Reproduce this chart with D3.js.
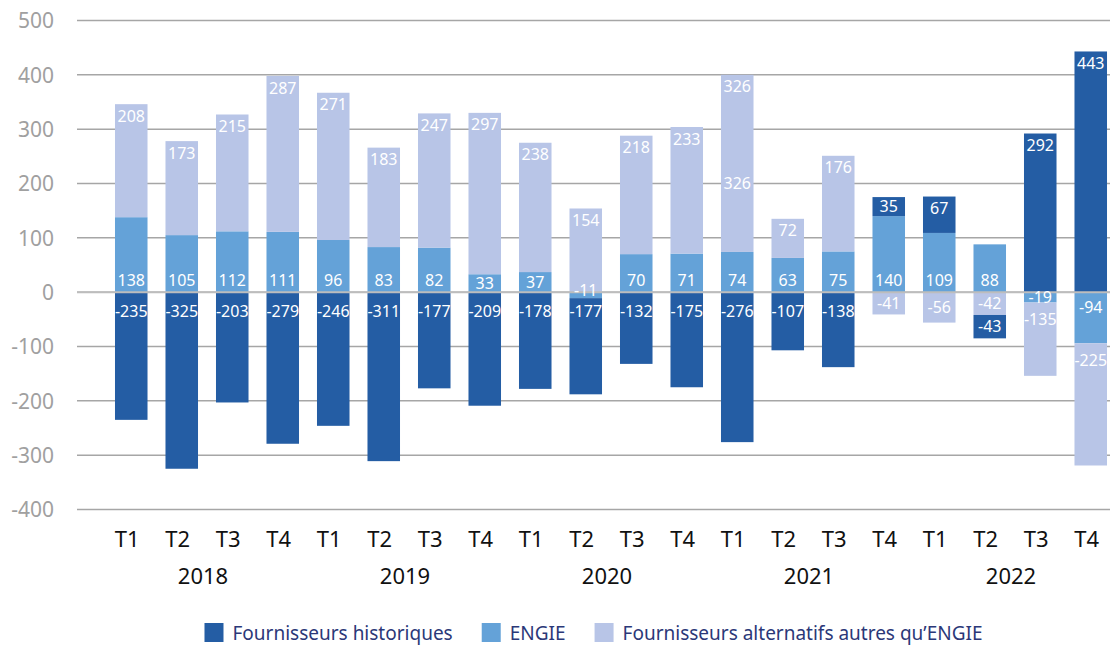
<!DOCTYPE html>
<html>
<head>
<meta charset="utf-8">
<script src="https://cdn.jsdelivr.net/npm/d3@7"></script>
<style>
  body { margin: 0; background: #fff; }
  text { font-family: "Noto Sans", sans-serif; }
</style>
</head>
<body>
<div id="chart"></div>
<script>
// quarters / years
var quarters = ["T1","T2","T3","T4","T1","T2","T3","T4","T1","T2","T3","T4",
                "T1","T2","T3","T4","T1","T2","T3","T4"];
var years = ["2018","2019","2020","2021","2022"];

// series values
var historiques = [-235,-325,-203,-279,-246,-311,-177,-209,-178,-177,-132,-175,-276,-107,-138,35,67,-43,292,443];
var engie       = [138,105,112,111,96,83,82,33,37,-11,70,71,74,63,75,140,109,88,-19,-94];
var alternatifs = [208,173,215,287,271,183,247,297,238,154,218,233,326,72,176,-41,-56,-42,-135,-225];

var yTicks = [-400,-300,-200,-100,0,100,200,300,400,500];

var cfg = {
    w: 1110,
    h: 647,
    left: 77,
    right: 1110,
    top: 20.5,
    bottom: 509.5
};

var colors = {
    hist: "#245da4",
    engie: "#64a2d8",
    alt: "#b8c5e7"
};

var legendItems = [
    {key: "hist", name: "Fournisseurs historiques"},
    {key: "engie", name: "ENGIE"},
    {key: "alt", name: "Fournisseurs alternatifs autres qu\u2019ENGIE"}
];

var rows = quarters.map(function(q, i){
    return {i: i, q: q, hist: historiques[i], engie: engie[i], alt: alternatifs[i]};
});

var svg = d3.select("#chart")
    .append("svg")
    .attr("width", cfg.w)
    .attr("height", cfg.h);

var x = d3.scaleBand()
    .domain(d3.range(rows.length))
    .range([106, 1116])
    .paddingInner(0.356)
    .paddingOuter(0.178);

var y = d3.scaleLinear()
    .domain([-400, 500])
    .range([cfg.bottom, cfg.top]);

// gridlines
svg.append("g")
    .selectAll("line")
    .data(yTicks)
    .enter()
    .append("line")
    .attr("x1", cfg.left)
    .attr("x2", cfg.right)
    .attr("y1", function(d){ return y(d); })
    .attr("y2", function(d){ return y(d); })
    .style("stroke", "#a6a6a6")
    .style("stroke-width", "1.5px");

// y axis labels
var yAxis = d3.axisLeft(y)
    .tickValues(yTicks)
    .tickSize(0)
    .tickPadding(0)
    .tickFormat(function(d){ return String(d); });

var gy = svg.append("g")
    .attr("transform", "translate(54,0)")
    .call(yAxis);
gy.select(".domain").remove();
gy.selectAll("text")
    .style("font-family", "'Noto Sans', sans-serif")
    .style("font-size", "21px")
    .style("fill", "#a0a0a0")
    .attr("dy", "0.35em");

// stacked bars
var keys = ["engie", "alt", "hist"];
var series = d3.stack()
    .keys(keys)
    .offset(d3.stackOffsetDiverging)(rows);

var layers = svg.append("g")
    .selectAll("g")
    .data(series)
    .enter()
    .append("g")
    .style("fill", function(d){ return colors[d.key]; });

layers.selectAll("rect")
    .data(function(d){ return d; })
    .enter()
    .append("rect")
    .attr("x", function(d){ return x(d.data.i); })
    .attr("width", x.bandwidth())
    .attr("y", function(d){ return y(Math.max(d[0], d[1])); })
    .attr("height", function(d){ return Math.abs(y(d[0]) - y(d[1])); });

// zero line over bars
svg.append("line")
    .attr("x1", cfg.left)
    .attr("x2", cfg.right)
    .attr("y1", y(0))
    .attr("y2", y(0))
    .style("stroke", "#bdbdbd")
    .style("stroke-width", "2px");

// data labels
function labelY(key, d){
    var v = d.data[key];
    var top = y(Math.max(d[0], d[1]));
    var bot = y(Math.min(d[0], d[1]));
    if (bot - top < 32) {
        // tiny segment right under zero: label sits on the zero line
        if (v < 0 && bot - top < 10) return top - 2;
        return (top + bot) / 2;
    }
    if (key === "engie") {
        return v > 0 ? bot - 12 : top + 15;
    }
    if (key === "hist" && v < 0) return Math.max(top + 13, y(0) + 19);
    return v > 0 ? top + 12 : top + 17;
}

var labels = svg.append("g");
series.forEach(function(s){
    labels.selectAll(".lbl-" + s.key)
        .data(s.filter(function(d){ return d.data[s.key] !== 0; }))
        .enter()
        .append("text")
        .attr("class", "lbl-" + s.key)
        .attr("x", function(d){ return x(d.data.i) + x.bandwidth() / 2; })
        .attr("y", function(d){ return labelY(s.key, d); })
        .attr("dy", "0.35em")
        .attr("text-anchor", "middle")
        .style("font-size", "16px")
        .style("fill", "#ffffff")
        .text(function(d){ return d.data[s.key]; });
});

// the original repeats the 326 label in the middle of that segment
var repeatedLabel = [12];
var altSeries = series.filter(function(s){ return s.key === "alt"; })[0];
labels.selectAll(".lbl-repeat")
    .data(repeatedLabel.map(function(i){ return altSeries[i]; }))
    .enter()
    .append("text")
    .attr("x", function(d){ return x(d.data.i) + x.bandwidth() / 2; })
    .attr("y", function(d){ return (y(d[0]) + y(d[1])) / 2 + 20; })
    .attr("dy", "0.35em")
    .attr("text-anchor", "middle")
    .style("font-size", "16px")
    .style("fill", "#ffffff")
    .text(function(d){ return d.data.alt; });

// quarter labels
svg.append("g")
    .selectAll("text")
    .data(rows)
    .enter()
    .append("text")
    .attr("x", function(d){ return x(d.i) + x.bandwidth() / 2 - 4; })
    .attr("y", 547)
    .attr("text-anchor", "middle")
    .style("font-size", "22px")
    .style("fill", "#111")
    .text(function(d){ return d.q; });

// year labels
svg.append("g")
    .selectAll("text")
    .data(years)
    .enter()
    .append("text")
    .attr("x", function(d, j){
        var a = x(j * 4) + x.bandwidth() / 2;
        var b = x(j * 4 + 3) + x.bandwidth() / 2;
        return (a + b) / 2 - 4;
    })
    .attr("y", 584)
    .attr("text-anchor", "middle")
    .style("font-size", "22px")
    .style("fill", "#111")
    .text(function(d){ return d; });

// legend
var legend = svg.append("g");
var lx = 0;
legendItems.forEach(function(item, k){
    var g = legend.append("g").attr("transform", "translate(" + lx + ",0)");
    g.append("rect")
        .attr("x", 0)
        .attr("y", 623)
        .attr("width", 19)
        .attr("height", 19)
        .style("fill", colors[item.key]);
    var t = g.append("text")
        .attr("x", 28)
        .attr("y", 640)
        .style("font-size", "19px")
        .style("fill", "#2b3878")
        .text(item.name);
    lx += 28 + t.node().getComputedTextLength() + 29;
});
var legendW = lx - 29;
legend.attr("transform", "translate(" + ((cfg.left + cfg.right) / 2 - legendW / 2) + ",0)");
</script>
</body>
</html>
